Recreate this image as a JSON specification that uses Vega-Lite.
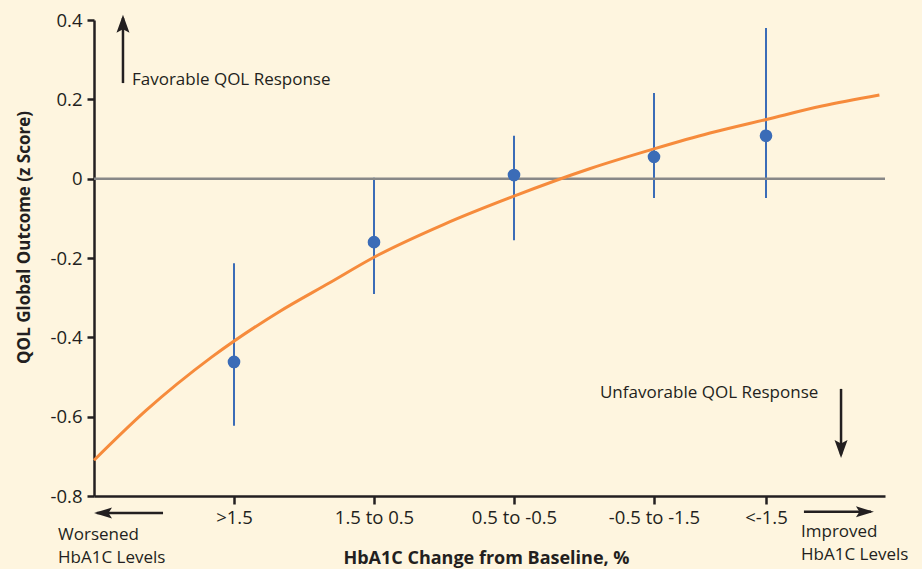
{
  "$schema": "https://vega.github.io/schema/vega-lite/v6.json",
  "width": 791,
  "height": 476,
  "autosize": {"type": "none"},
  "padding": {"left": 94, "top": 20, "right": 37, "bottom": 73},
  "background": "#fef5df",
  "config": {
    "view": {"stroke": null},
    "axis": {
      "grid": false,
      "domainColor": "#231f20",
      "domainWidth": 2.5,
      "tickColor": "#231f20",
      "tickWidth": 2.5,
      "labelFont": "Open Sans",
      "labelFontSize": 18.5,
      "labelColor": "#231f20",
      "titleFont": "Open Sans",
      "titleFontSize": 17,
      "titleFontWeight": "bold",
      "titleColor": "#231f20"
    }
  },
  "datasets": {
    "points": [
      {"group": ">1.5", "x": 1, "y": -0.462},
      {"group": "1.5 to 0.5", "x": 2, "y": -0.160},
      {"group": "0.5 to -0.5", "x": 3, "y": 0.009},
      {"group": "-0.5 to -1.5", "x": 4, "y": 0.055},
      {"group": "<-1.5", "x": 4.8, "y": 0.108}
    ],
    "bars": [
      {"group": ">1.5", "x": 1, "y": -0.623, "y2": -0.213},
      {"group": "1.5 to 0.5", "x": 2, "y": -0.291, "y2": 0.002},
      {"group": "0.5 to -0.5", "x": 3, "y": -0.155, "y2": 0.108},
      {"group": "-0.5 to -1.5", "x": 4, "y": -0.049, "y2": 0.216},
      {"group": "<-1.5", "x": 4.8, "y": -0.049, "y2": 0.380}
    ],
    "curve": [
      {"x": 0, "y": -0.71},
      {"x": 0.37, "y": -0.585},
      {"x": 0.84, "y": -0.45},
      {"x": 1.32, "y": -0.336},
      {"x": 1.68, "y": -0.263},
      {"x": 2.0, "y": -0.198},
      {"x": 2.5, "y": -0.115},
      {"x": 3.0, "y": -0.044},
      {"x": 3.54, "y": 0.025},
      {"x": 4.0, "y": 0.075},
      {"x": 4.4, "y": 0.115},
      {"x": 4.81, "y": 0.15},
      {"x": 5.2, "y": 0.183},
      {"x": 5.61, "y": 0.211}
    ],
    "shafts": [
      {"x": 0.207, "y": 0.241, "x2": 0.207, "y2": 0.405},
      {"x": 5.336, "y": -0.530, "x2": 5.336, "y2": -0.695},
      {"x": 0.493, "y": -0.843, "x2": 0.02, "y2": -0.843},
      {"x": 5.071, "y": -0.840, "x2": 5.55, "y2": -0.840}
    ],
    "heads": [
      {"dir": "up", "x": 0.207, "y": 0.413},
      {"dir": "down", "x": 5.336, "y": -0.704},
      {"dir": "left", "x": 0.0, "y": -0.843},
      {"dir": "right", "x": 5.571, "y": -0.840}
    ],
    "notes": [
      {"text": "Favorable QOL Response", "x": 0.271, "y": 0.249},
      {"text": "Unfavorable QOL Response", "x": 3.614, "y": -0.540},
      {"text": "Worsened", "x": -0.257, "y": -0.898},
      {"text": "HbA1C Levels", "x": -0.257, "y": -0.956},
      {"text": "Improved", "x": 5.05, "y": -0.891},
      {"text": "HbA1C Levels", "x": 5.05, "y": -0.949}
    ]
  },
  "encoding": {
    "x": {
      "field": "x", "type": "quantitative",
      "scale": {"domain": [0, 5.65], "nice": false, "zero": false},
      "axis": {
        "title": "HbA1C Change from Baseline, %",
        "values": [1, 2, 3, 4, 4.8],
        "labelExpr": "datum.value == 1 ? '>1.5' : datum.value == 2 ? '1.5 to 0.5' : datum.value == 3 ? '0.5 to -0.5' : datum.value == 4 ? '-0.5 to -1.5' : '<-1.5'",
        "tickSize": 8,
        "labelPadding": 4,
        "titleFontSize": 18,
        "titleX": 392,
        "titleY": 62,
        "titleBaseline": "middle",
        "labelFlush": false,
        "labelOverlap": false
      }
    },
    "y": {
      "field": "y", "type": "quantitative",
      "scale": {"domain": [-0.8, 0.4], "nice": false, "zero": false},
      "axis": {
        "title": "QOL Global Outcome (z Score)",
        "values": [-0.8, -0.6, -0.4, -0.2, 0, 0.2, 0.4],
        "labelExpr": "datum.value == 0 ? '0' : (datum.value < 0 ? '-' : '') + format(abs(datum.value), '.1f')",
        "tickSize": 7,
        "labelPadding": 5,
        "titleX": -70,
        "titleY": 217,
        "titleBaseline": "middle",
        "labelFlush": false,
        "labelOverlap": false
      }
    }
  },
  "layer": [
    {
      "data": {"name": "bars"},
      "mark": {"type": "rule", "color": "#3b6cb7", "strokeWidth": 2},
      "encoding": {"y2": {"field": "y2"}}
    },
    {
      "data": {"values": [{"y": 0}]},
      "mark": {"type": "rule", "color": "#888888", "strokeWidth": 2.5},
      "encoding": {"x": {"value": 0}, "x2": {"value": "width"}}
    },
    {
      "data": {"name": "curve"},
      "mark": {"type": "line", "color": "#f68b3c", "strokeWidth": 3, "interpolate": "monotone"},
      "encoding": {}
    },
    {
      "data": {"name": "points"},
      "mark": {"type": "point", "filled": true, "opacity": 1, "color": "#3b6cb7", "size": 160},
      "encoding": {}
    },
    {
      "data": {"name": "shafts"},
      "mark": {"type": "rule", "color": "#231f20", "strokeWidth": 2.5},
      "encoding": {"x2": {"field": "x2"}, "y2": {"field": "y2"}}
    },
    {
      "data": {"name": "heads"},
      "mark": {"type": "point", "filled": true, "opacity": 1, "color": "#231f20", "size": 400, "strokeWidth": 0},
      "encoding": {
        "shape": {
          "field": "dir", "type": "nominal", "legend": null,
          "scale": {
            "domain": ["up", "down", "left", "right"],
            "range": [
              "M0,0L0.65,1.8L0,1.45L-0.65,1.8Z",
              "M0,0L0.65,-1.8L0,-1.45L-0.65,-1.8Z",
              "M0,0L1.8,0.55L1.45,0L1.8,-0.55Z",
              "M0,0L-1.8,0.55L-1.45,0L-1.8,-0.55Z"
            ]
          }
        }
      }
    },
    {
      "data": {"name": "notes"},
      "mark": {"type": "text", "align": "left", "baseline": "middle", "font": "Open Sans", "fontSize": 17, "color": "#231f20"},
      "encoding": {"text": {"field": "text"}}
    }
  ]
}
